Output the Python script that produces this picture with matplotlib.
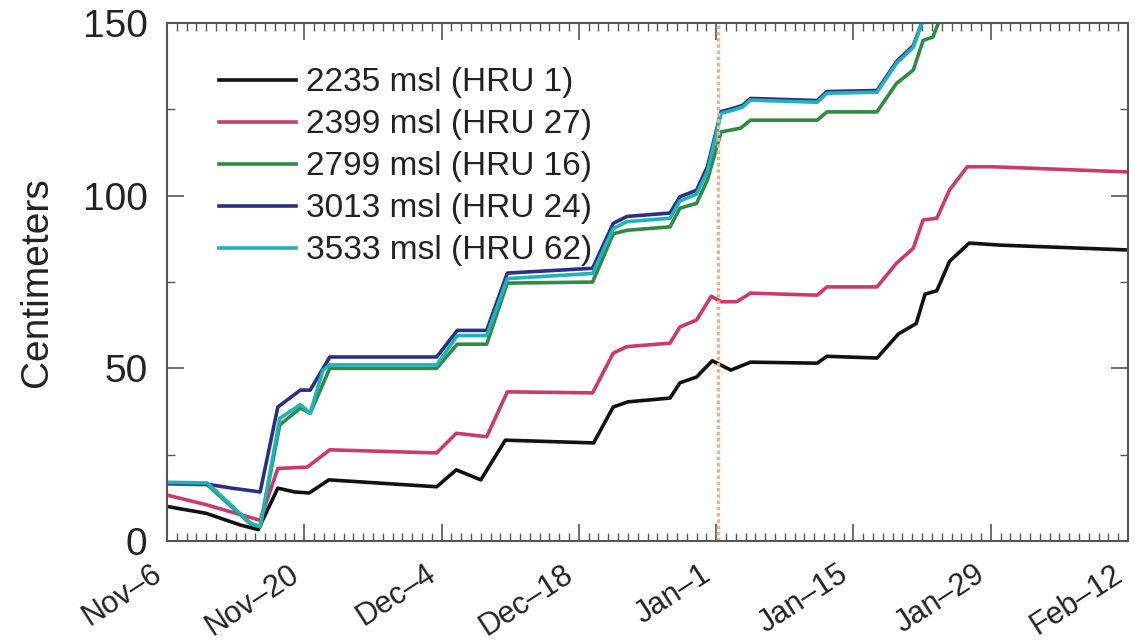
import datetime as dt
import matplotlib
matplotlib.use("Agg")
import matplotlib.pyplot as plt
import matplotlib.dates as mdates
from matplotlib.ticker import MultipleLocator

plt.rcParams['font.family'] = ['Liberation Sans', 'DejaVu Sans']

start = dt.datetime(2000, 11, 6)

# day offsets from Nov-6 and snow depth (cm) for each HRU
days_hru1 = [0, 4, 7.5, 9.3, 11.3, 13, 14.5, 16.5, 27.5, 29.5, 32, 34.5, 43.5, 45.5, 47,
             51.3, 52.3, 54, 55.6, 57.5, 59.5, 66.3, 67.3, 72.4, 74.6, 76.4, 77.3, 78.5,
             79.8, 81.8, 85, 98]
cm_hru1 = [10, 8, 4.6, 3.3, 15.3, 14.2, 13.9, 17.7, 15.7, 20.6, 17.7, 29.2, 28.4, 38.8, 40.3,
           41.4, 45.8, 47.5, 52.2, 49.5, 51.8, 51.5, 53.5, 53, 60, 63, 71.5, 72.5,
           81, 86.3, 85.7, 84.3]

days_hru27 = [0, 4, 8, 9.5, 11.3, 14.3, 16.6, 27.5, 29.5, 32.6, 34.7, 43.4, 45.5, 46.9,
              51.3, 52.3, 54, 55.5, 56.5, 58.1, 59.5, 66.3, 67.3, 72.4, 74.4, 76.1, 77.1,
              78.5, 79.8, 81.6, 84.2, 98]
cm_hru27 = [13.3, 10.5, 7.2, 6, 21, 21.4, 26.4, 25.5, 31.2, 30.2, 43.2, 42.9, 54.4, 56.3,
            57.3, 62, 64, 70.9, 69.3, 69.3, 71.8, 71.2, 73.6, 73.6, 80.5, 84.8, 93,
            93.5, 101.7, 108.4, 108.4, 106.9]

days_hru16 = [0, 4.1, 8.5, 9.5, 11.5, 13.6, 14.6, 16.6, 27.5, 29.6, 32.6, 34.7, 43.4, 45.5,
              46.9, 51.3, 52.3, 54, 55.1, 56.5, 58.5, 59.5, 66.3, 67.3, 72.4, 74.4, 76.1,
              77.1, 78.1, 78.8]
cm_hru16 = [16.5, 16.3, 5, 4.2, 33.6, 38.5, 37, 50, 50, 57, 57, 74.7, 75, 89,
            90, 91, 96.4, 97.8, 104.5, 118.5, 119.6, 121.9, 121.9, 124.3, 124.3, 132.6, 136.4,
            145, 146, 151]

days_hru24 = [0, 4, 6.6, 9.5, 11.3, 13.6, 14.6, 16.6, 27.5, 29.6, 32.6, 34.7, 43.4, 45.5,
              46.9, 51.3, 52.3, 54, 55.1, 56.5, 57.7, 58.7, 59.5, 66.3, 67.3, 72.4, 74.4,
              76.1, 77.1]
cm_hru24 = [16.8, 16.5, 15.3, 14.2, 38.8, 43.7, 43.7, 53.3, 53.3, 61, 61, 77.6, 79, 92,
            94, 95, 99.7, 101.6, 108.4, 124.4, 125.3, 126.2, 128.2, 127.6, 130.2, 130.5, 138.9,
            143.5, 151]

days_hru62 = [0, 4.1, 8.5, 9.5, 11.5, 13.6, 14.6, 15.9, 16.6, 27.5, 29.6, 32.6, 34.7, 43.4,
              45.5, 46.9, 51.3, 52.3, 54, 55.1, 56.5, 57.7, 58.7, 59.5, 66.3, 67.3, 72.4,
              74.4, 76.1, 77.1]
cm_hru62 = [17, 16.8, 5.2, 4.1, 35.5, 39.5, 37, 49.5, 51, 51, 59.5, 59.5, 76, 77.5,
            90.5, 92.5, 93.5, 98.5, 100.5, 107, 123.9, 124.8, 125.7, 127.7, 127.1, 129.7, 130,
            138.4, 143, 151]

labels = ["2235 msl (HRU 1)", "2399 msl (HRU 27)", "2799 msl (HRU 16)",
          "3013 msl (HRU 24)", "3533 msl (HRU 62)"]
colors = ["#111111", "#cc3a6a", "#2f8a45", "#2c2f86", "#1db3b8"]

tick_days = [0, 14, 28, 42, 56, 70, 84, 98]
tick_labels = ["Nov–6", "Nov–20", "Dec–4", "Dec–18", "Jan–1", "Jan–15", "Jan–29", "Feb–12"]
marker_day = 56.2


def to_dates(days):
    return [start + dt.timedelta(days=d) for d in days]


series = [(days_hru1, cm_hru1), (days_hru27, cm_hru27), (days_hru16, cm_hru16),
          (days_hru24, cm_hru24), (days_hru62, cm_hru62)]

fig = plt.figure(figsize=(11.4, 6.44), dpi=100)
ax = fig.add_axes([0.1465, 0.16, 0.843, 0.804])

for (d, v), lab, col in zip(series, labels, colors):
    ax.plot(to_dates(d), v, color=col, lw=2.6, label=lab, solid_joinstyle='round')

ax.axvline(start + dt.timedelta(days=marker_day), color="#efb18c", lw=2.5, ls=(0, (1, 0.8)))

ax.set_xlim(start, start + dt.timedelta(days=98))
ax.set_ylim(0, 150)
ax.set_xticks(to_dates(tick_days))
# slanted date labels, right edge of each box at its tick
ax.set_xticklabels(tick_labels, rotation=33, ha='right', va='top', fontsize=22)
ax.xaxis.set_minor_locator(mdates.DayLocator())
ax.yaxis.set_major_locator(MultipleLocator(50))
ax.yaxis.set_minor_locator(MultipleLocator(25))

ax.tick_params(which='both', direction='in', top=True, right=True, colors='#555555',
               labelcolor='#222222')
ax.tick_params(axis='y', labelsize=28, pad=14)
ax.tick_params(axis='x', pad=13)
ax.tick_params(which='major', length=12, width=1.2)
ax.tick_params(which='minor', length=6, width=1.0)
for s in ax.spines.values():
    s.set_color('#555555')
    s.set_linewidth(1.5)

ax.set_ylabel("Centimeters", fontsize=28, color='#222222', labelpad=20)

leg = ax.legend(loc='upper left', frameon=False, fontsize=24, handlelength=2.3,
                handletextpad=0.3, labelspacing=0.33, borderaxespad=0.3,
                bbox_to_anchor=(0.03, 0.96))
for t in leg.get_texts():
    t.set_color('#222222')

fig.savefig("out.png", dpi=100)
